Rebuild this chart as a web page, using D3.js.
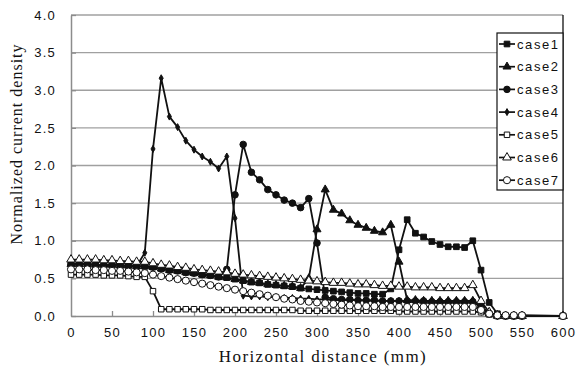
<!DOCTYPE html>
<html>
<head>
<meta charset="utf-8">
<script src="https://cdn.jsdelivr.net/npm/d3@7"></script>
<style>
  body { margin: 0; background: #fff; }
  svg { display: block; }
</style>
</head>
<body>
<div id="chart"></div>
<script>
// x positions (mm)
const distance = [0,10,20,30,40,50,60,70,80,90,100,110,120,130,140,150,160,170,180,190,
  200,210,220,230,240,250,260,270,280,290,300,310,320,330,340,350,360,370,380,390,
  400,410,420,430,440,450,460,470,480,490,500,510,520,530,540,550,600];

const case1 = [0.69,0.69,0.69,0.68,0.68,0.68,0.67,0.67,0.66,0.66,0.65,0.63,0.61,0.60,0.58,0.57,0.55,0.54,0.52,0.51,
  0.49,0.47,0.45,0.44,0.42,0.41,0.40,0.39,0.37,0.36,0.35,0.34,0.33,0.32,0.31,0.30,0.30,0.29,0.29,0.36,
  0.88,1.28,1.10,1.05,0.99,0.95,0.92,0.92,0.91,1.00,0.61,0.18,0.03,0,0,0,0];
const case2 = [0.69,0.69,0.69,0.68,0.68,0.68,0.67,0.67,0.66,0.66,0.65,0.63,0.61,0.60,0.58,0.57,0.55,0.54,0.52,0.51,
  0.49,0.47,0.45,0.44,0.42,0.41,0.40,0.39,0.37,0.50,1.15,1.68,1.41,1.36,1.27,1.21,1.17,1.13,1.11,1.21,
  0.72,0.21,0.21,0.20,0.20,0.20,0.20,0.20,0.20,0.20,0.13,0.03,0,0,0,0,0];
const case3 = [0.69,0.69,0.69,0.68,0.68,0.68,0.67,0.67,0.66,0.66,0.65,0.63,0.61,0.60,0.58,0.57,0.55,0.54,0.52,0.62,
  1.61,2.28,1.91,1.81,1.68,1.61,1.54,1.50,1.44,1.56,0.97,0.25,0.23,0.22,0.22,0.21,0.21,0.21,0.20,0.20,
  0.20,0.20,0.20,0.20,0.19,0.19,0.19,0.19,0.19,0.19,0.12,0.03,0,0,0,0,0];
const case4 = [0.69,0.69,0.69,0.68,0.68,0.68,0.67,0.67,0.66,0.84,2.22,3.16,2.65,2.51,2.33,2.21,2.12,2.05,1.96,2.12,
  1.30,0.27,0.26,0.26,0.25,0.25,0.24,0.24,0.23,0.23,0.22,0.22,0.21,0.21,0.21,0.21,0.20,0.20,0.20,0.20,
  0.20,0.20,0.20,0.19,0.19,0.19,0.19,0.19,0.19,0.19,0.12,0.03,0,0,0,0,0];
const case5 = [0.55,0.55,0.55,0.55,0.54,0.54,0.54,0.53,0.52,0.52,0.33,0.09,0.09,0.09,0.09,0.09,0.09,0.08,0.08,0.08,
  0.08,0.08,0.08,0.08,0.08,0.08,0.08,0.08,0.07,0.07,0.07,0.07,0.07,0.07,0.07,0.07,0.07,0.07,0.07,0.07,
  0.06,0.06,0.06,0.06,0.06,0.06,0.06,0.06,0.06,0.06,0.05,0.02,0,0,0,0,0];
const case6 = [0.75,0.75,0.75,0.75,0.74,0.74,0.73,0.73,0.72,0.72,0.70,0.68,0.67,0.65,0.64,0.62,0.61,0.60,0.59,0.58,
  0.56,0.55,0.54,0.53,0.52,0.51,0.50,0.49,0.48,0.47,0.46,0.45,0.44,0.44,0.43,0.42,0.42,0.41,0.40,0.40,
  0.39,0.39,0.38,0.38,0.38,0.37,0.37,0.37,0.37,0.41,0.20,0.05,0.01,0,0,0,0];
const case7 = [0.62,0.62,0.62,0.61,0.61,0.60,0.60,0.59,0.58,0.57,0.55,0.53,0.51,0.49,0.47,0.45,0.43,0.41,0.39,0.37,
  0.35,0.33,0.31,0.29,0.27,0.25,0.23,0.22,0.20,0.19,0.18,0.17,0.16,0.15,0.14,0.13,0.13,0.13,0.12,0.12,
  0.12,0.12,0.12,0.12,0.12,0.12,0.12,0.12,0.12,0.12,0.08,0.03,0.01,0.01,0.01,0.01,0];

const seriesNames = ["case1","case2","case3","case4","case5","case6","case7"];
const seriesValues = [case1, case2, case3, case4, case5, case6, case7];
const xTicks = [0,50,100,150,200,250,300,350,400,450,500,550,600];
const yTicks = [0,0.5,1,1.5,2,2.5,3,3.5,4];

const width = 576, height = 371;
const margin = { top: 15, right: 13, bottom: 55, left: 71 };

const svg = d3.select("#chart").append("svg")
    .attr("width", width)
    .attr("height", height);

const x = d3.scaleLinear().domain([0, 600]).range([margin.left, width - margin.right]);
const y = d3.scaleLinear().domain([0, 4]).range([height - margin.bottom, margin.top]);

// gridlines
svg.append("g")
  .selectAll("line")
  .data(yTicks.filter(d => d > 0))
  .enter().append("line")
    .attr("x1", x(0)).attr("x2", x(600))
    .attr("y1", d => y(d)).attr("y2", d => y(d))
    .attr("stroke", "#a0a0a0")
    .attr("stroke-width", 1.3);

// axes
const xAxis = svg.append("g")
    .attr("transform", `translate(0,${y(0)})`)
    .call(d3.axisBottom(x).tickValues(xTicks).tickSizeInner(-5).tickSizeOuter(0).tickPadding(12));
const yAxis = svg.append("g")
    .attr("transform", `translate(${x(0)},0)`)
    .call(d3.axisLeft(y).tickValues(yTicks).tickFormat(d3.format(".1f")).tickSizeInner(-5).tickSizeOuter(0).tickPadding(15));

[xAxis, yAxis].forEach(a => {
  a.select(".domain").attr("stroke", "#8c8c8c").attr("stroke-width", 1.5);
  a.selectAll(".tick line").attr("stroke", "#8c8c8c").attr("stroke-width", 1.3);
  a.selectAll("text")
    .attr("fill", "#111")
    .style("font-family", "'Liberation Sans', Arial, sans-serif")
    .style("font-size", "13px")
    .style("letter-spacing", "1.2px");
});
xAxis.selectAll(".tick line").filter(d => d === 0 || d === 600).remove();

// right border
svg.append("line")
    .attr("x1", x(600)).attr("x2", x(600))
    .attr("y1", y(4)).attr("y2", y(0))
    .attr("stroke", "#111").attr("stroke-width", 1.3);

// markers
const sym = [
  { type: d3.symbolSquare, size: 32, fill: "#111" },
  { type: d3.symbolTriangle, size: 28, fill: "#111" },
  { type: d3.symbolCircle, size: 34, fill: "#111" },
  { type: d3.symbolDiamond, size: 14, fill: "#111" },
  { type: d3.symbolSquare, size: 30, fill: "#fff" },
  { type: d3.symbolTriangle, size: 32, fill: "#fff" },
  { type: d3.symbolCircle, size: 40, fill: "#fff" }
];

const line = d3.line()
    .x((d, i) => x(distance[i]))
    .y(d => y(d));

seriesValues.forEach((vals, k) => {
  const g = svg.append("g");
  g.append("path")
    .attr("d", line(vals))
    .attr("fill", "none")
    .attr("stroke", "#111")
    .attr("stroke-width", 1.8)
    .attr("stroke-linejoin", "round");
  g.selectAll("path.m")
    .data(vals)
    .enter().append("path")
    .attr("class", "m")
    .attr("d", d3.symbol().type(sym[k].type).size(sym[k].size))
    .attr("transform", (d, i) => `translate(${x(distance[i])},${y(d)})`)
    .attr("fill", sym[k].fill)
    .attr("stroke", "#111")
    .attr("stroke-width", 1);
});

// legend
const legend = svg.append("g").attr("transform", "translate(497,33)");
legend.append("rect")
    .attr("x", 0).attr("y", 0)
    .attr("width", x(600) - 497).attr("height", 157)
    .attr("fill", "#fff")
    .attr("stroke", "#111")
    .attr("stroke-width", 1.2);

const item = legend.selectAll("g.item")
    .data(seriesNames)
    .enter().append("g")
    .attr("transform", (d, i) => `translate(0,${11 + i * 22.7})`);
item.append("line")
    .attr("x1", 2).attr("x2", 18)
    .attr("stroke", "#111").attr("stroke-width", 1.7);
item.append("path")
    .attr("d", (d, i) => d3.symbol().type(sym[i].type).size(sym[i].size)())
    .attr("transform", "translate(10,0)")
    .attr("fill", (d, i) => sym[i].fill)
    .attr("stroke", "#111");
item.append("text")
    .attr("x", 20)
    .attr("dy", "0.35em")
    .style("font-family", "'Liberation Sans', Arial, sans-serif")
    .style("font-size", "13px")
    .style("letter-spacing", "1.6px")
    .attr("fill", "#111")
    .text(d => d);

// axis titles
svg.append("text")
    .attr("x", (x(0) + x(600)) / 2 + 6)
    .attr("y", 362)
    .attr("text-anchor", "middle")
    .style("font-family", "'Liberation Serif', 'Times New Roman', serif")
    .style("font-size", "17px")
    .style("letter-spacing", "1.4px")
    .attr("fill", "#111")
    .text("Horizontal distance (mm)");

svg.append("text")
    .attr("transform", "translate(22,144) rotate(-90)")
    .attr("text-anchor", "middle")
    .style("font-family", "'Liberation Serif', 'Times New Roman', serif")
    .style("font-size", "16px")
    .style("letter-spacing", "1px")
    .attr("fill", "#111")
    .text("Normalized current density");
</script>
</body>
</html>
